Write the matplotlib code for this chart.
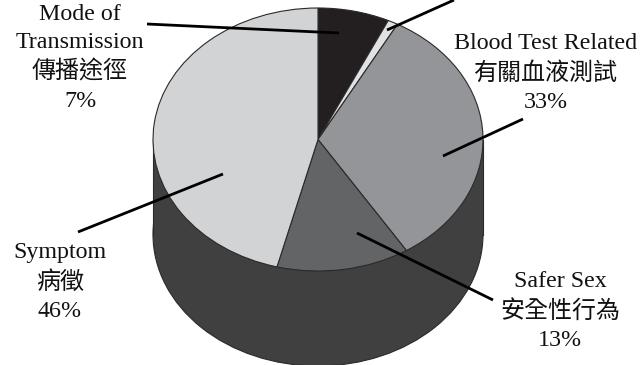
import matplotlib
matplotlib.use("Agg")
import matplotlib.pyplot as plt
from matplotlib.patches import Ellipse, Rectangle

plt.rcParams['font.family'] = ['Liberation Serif', 'Noto Sans CJK TC']

# clockwise from 12 o'clock, the second slice has its label off the top edge
shares = [7, 1, 33, 13, 46]
colors = ['#231f20', '#e1e2e4', '#939598', '#636466', '#d1d3d4']
labels = ['Mode of\nTransmission\n傳播途徑\n7%',
          'Blood Test Related\n有關血液測試\n33%',
          'Safer Sex\n安全性行為\n13%',
          'Symptom\n病徵\n46%']
label_xy = [(80, 58), (546, 73), (560, 311), (60, 282)]

# leader lines in pixels
leaders = [((147, 24), (339, 33)),
           ((454, 0), (387, 30)),
           ((523, 119), (443, 156)),
           ((78, 232), (223, 174)),
           ((493, 300), (357, 233))]

W, H = 640, 365
CX, CY, RX, RY = 318, 139.5, 165, 131.5
DEPTH = 95
EDGE = '#2b2a2b'


def px(x, y):
    return (x - CX) / RX, (CY - y) / RY


fig = plt.figure(figsize=(W / 100, H / 100), dpi=100)
ax = fig.add_axes([0, 0, 1, 1])

# cylinder wall below the top face
drop = DEPTH / RY
ax.add_patch(Ellipse((0, -drop), 2, 2, fc='#404041', ec=EDGE, lw=0.8, zorder=1))
ax.add_patch(Rectangle((-1, -drop), 2, drop, fc='#404041', ec='none', zorder=1))
ax.plot([-1, -1], [-drop, 0], color=EDGE, lw=0.8, zorder=1)
ax.plot([1, 1], [-drop, 0], color=EDGE, lw=0.8, zorder=1)

ax.pie(shares, colors=colors, startangle=90, counterclock=False, radius=1,
       wedgeprops={'edgecolor': EDGE, 'linewidth': 0.8, 'zorder': 2})

ax.set_aspect('auto')
ax.set_xlim(px(0, 0)[0], px(W, 0)[0])
ax.set_ylim(px(0, H)[1], px(0, 0)[1])
ax.axis('off')

for start, end in leaders:
    x0, y0 = px(*start)
    x1, y1 = px(*end)
    ax.plot([x0, x1], [y0, y1], color='black', lw=2.0, zorder=5,
            solid_capstyle='butt')

for text, (x, y) in zip(labels, label_xy):
    tx, ty = px(x, y)
    ax.text(tx, ty, text, ha='center', va='center', fontsize=17.3,
            linespacing=1.43, color='#111111', zorder=6)

fig.savefig('out.png', dpi=100)
